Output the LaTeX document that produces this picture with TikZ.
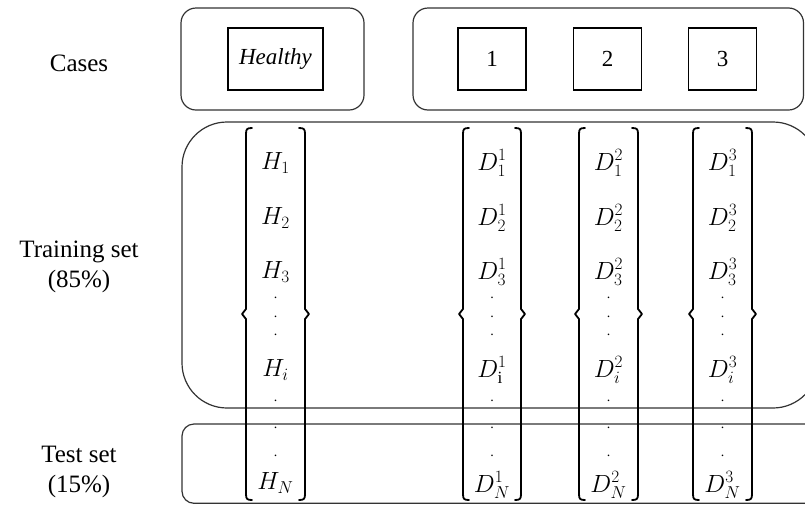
\documentclass[tikz,border=0pt]{standalone}
\usepackage{fontspec}
\setmainfont{Liberation Serif}

% Tall column bracket pair: left x, right x
\newcommand\drawcolbrackets[2]{%
  \draw[brk] (#1+6,128) .. controls (#1+1,128) and (#1,129) .. (#1,134)
    -- (#1,309) -- (#1-4,314) -- (#1,319) -- (#1,494)
    .. controls (#1,499) and (#1+1,500) .. (#1+6,500);
  \draw[brk] (#2-6,128) .. controls (#2-1,128) and (#2,129) .. (#2,134)
    -- (#2,309) -- (#2+4,314) -- (#2,319) -- (#2,494)
    .. controls (#2,499) and (#2-1,500) .. (#2-6,500);
}

\begin{document}
\begin{tikzpicture}[x=1pt,y=-1pt,
  group/.style={draw=black!80, line width=1.2pt, rounded corners=15pt},
  casebox/.style={draw, line width=1.7pt, minimum height=62pt, inner sep=0pt,
    font=\fontsize{23}{27}\selectfont},
  lab/.style={font=\fontsize{25}{30}\selectfont, align=center, inner sep=0pt},
  entry/.style={font=\fontsize{24.5}{28}\selectfont, inner sep=0pt},
  dotmark/.style={font=\fontsize{14}{16}\selectfont, inner sep=0pt},
  brk/.style={line width=1.8pt, line cap=round, line join=round}]

\useasboundingbox (0,0) rectangle (805,504);

% grouping frames
\begin{scope}
  \clip (0,0) rectangle (805,504);
  \draw[group] (181,8) rectangle (364,110);
  \draw[group] (413,8) rectangle (803.5,110);
  \draw[group, rounded corners=45pt] (182,122) rectangle (818,408);
  \draw[group, rounded corners=12pt] (182,424) rectangle (840,503.3);
\end{scope}

% row labels
\node[lab] (cases) at (79,63) {Cases};
\node[lab] (train) at (79,267) {Training set\\(85\%)};
\node[lab] (test)  at (79,472) {Test set\\(15\%)};

% case boxes
\node[casebox, minimum width=95pt] (healthy) at (275.5,59) {\textit{Healthy}};
\node[casebox, minimum width=68pt] (c1) at (492,59) {1};
\node[casebox, minimum width=68pt] (c2) at (607.5,59) {2};
\node[casebox, minimum width=68pt] (c3) at (722.5,59) {3};

% column brackets
\drawcolbrackets{246}{305}
\drawcolbrackets{463}{521}
\drawcolbrackets{579}{638}
\drawcolbrackets{693}{752}

% healthy column
\node[entry] (h1) at (275.5,163) {$H_1$};
\node[entry] (h2) at (275.5,218) {$H_2$};
\node[entry] (h3) at (275.5,272) {$H_3$};
\node[entry] (hi) at (275.5,370) {$H_i$};
\node[entry] (hN) at (275.5,483) {$H_N$};

% damage columns
\foreach \k/\cx in {1/492,2/608.5,3/722.5}{
  \node[entry] (d\k-1) at (\cx,163) {$D_1^{\k}$};
  \node[entry] (d\k-2) at (\cx,218) {$D_2^{\k}$};
  \node[entry] (d\k-3) at (\cx,272) {$D_3^{\k}$};
  \ifnum\k=1
    \node[entry] (d\k-i) at (\cx,370) {$D_{\mathrm{i}}^{\k}$};
  \else
    \node[entry] (d\k-i) at (\cx,370) {$D_i^{\k}$};
  \fi
  \node[entry] (d\k-N) at (\cx,485) {$D_N^{\k}$};
}

% ellipsis dots in every column
\foreach \c/\cx in {h/275.5,a/492,b/608.5,c/722.5}{
  \foreach \j/\y in {1/298,2/317,3/335,4/401,5/428,6/456}{
    \node[dotmark] (\c dot\j) at (\cx,\y) {.};
  }
}
\end{tikzpicture}
\end{document}
